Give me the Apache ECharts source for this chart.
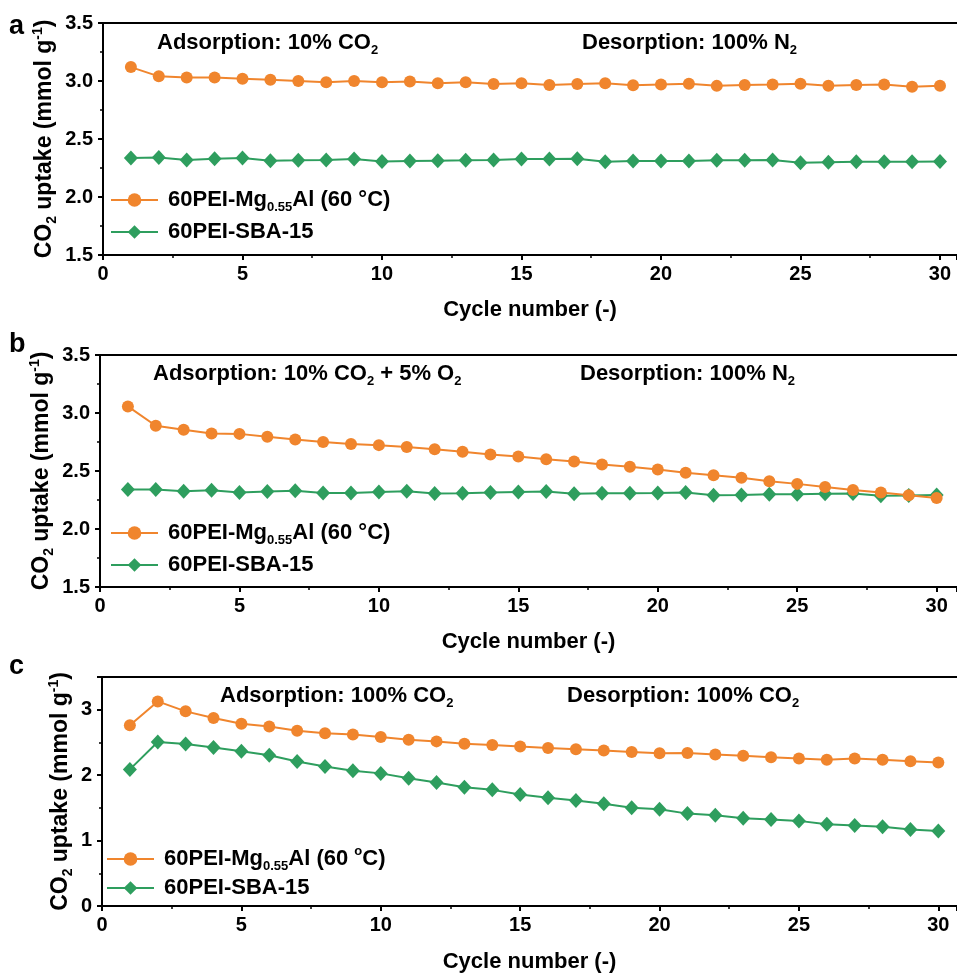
<!DOCTYPE html>
<html>
<head>
<meta charset="utf-8">
<script src="https://cdn.jsdelivr.net/npm/echarts@6/dist/echarts.min.js"></script>
<style>
html,body{margin:0;padding:0;background:#fff;}
#chart{width:957px;height:974px;}
</style>
</head>
<body>
<div id="chart"></div>
<script>
// ---------- data ----------
const cycles = [1,2,3,4,5,6,7,8,9,10,11,12,13,14,15,16,17,18,19,20,21,22,23,24,25,26,27,28,29,30];

// panel a: adsorption 10% CO2, desorption 100% N2
const aMg  = [3.12,3.04,3.03,3.03,3.02,3.01,3.00,2.99,3.00,2.99,2.995,2.98,2.99,2.975,2.98,2.965,2.975,2.98,2.963,2.97,2.976,2.958,2.965,2.97,2.976,2.96,2.965,2.97,2.95,2.96];
const aSBA = [2.336,2.34,2.32,2.33,2.336,2.313,2.316,2.32,2.327,2.305,2.31,2.313,2.316,2.32,2.327,2.327,2.33,2.304,2.31,2.31,2.31,2.316,2.316,2.32,2.296,2.30,2.304,2.304,2.304,2.305];

// panel b: adsorption 10% CO2 + 5% O2, desorption 100% N2
const bMg  = [3.057,2.89,2.855,2.824,2.82,2.795,2.772,2.749,2.732,2.723,2.706,2.688,2.665,2.642,2.625,2.602,2.582,2.556,2.536,2.513,2.484,2.464,2.441,2.412,2.389,2.363,2.337,2.314,2.291,2.268];
const bSBA = [2.34,2.34,2.326,2.334,2.314,2.323,2.329,2.311,2.311,2.32,2.326,2.306,2.309,2.314,2.32,2.323,2.303,2.309,2.309,2.311,2.314,2.291,2.294,2.30,2.30,2.303,2.306,2.286,2.289,2.294];

// panel c: adsorption 100% CO2, desorption 100% CO2
const cMg  = [2.764,3.127,2.975,2.874,2.784,2.743,2.678,2.642,2.622,2.582,2.542,2.516,2.481,2.461,2.436,2.416,2.395,2.375,2.355,2.335,2.34,2.315,2.295,2.274,2.254,2.234,2.254,2.234,2.214,2.194];
const cSBA = [2.088,2.506,2.476,2.421,2.365,2.305,2.209,2.133,2.068,2.027,1.952,1.886,1.815,1.775,1.705,1.654,1.614,1.563,1.503,1.478,1.412,1.387,1.341,1.321,1.301,1.251,1.230,1.210,1.170,1.145];

const nameMgAB = '60PEI-Mg0.55Al (60 °C)';
const nameMgC  = '60PEI-Mg0.55Al (60 oC)';
const nameSBA  = '60PEI-SBA-15';

const panelLetters = ['a','b','c'];
const adsTexts = [
  '{n|Adsorption: 10% CO}{s|2}',
  '{n|Adsorption: 10% CO}{s|2}{n| + 5% O}{s|2}',
  '{n|Adsorption: 100% CO}{s|2}'
];
const desTexts = [
  '{n|Desorption: 100% N}{s|2}',
  '{n|Desorption: 100% N}{s|2}',
  '{n|Desorption: 100% CO}{s|2}'
];
const xName = 'Cycle number (-)';
const yName = '{n|CO}{s|2}{n| uptake (mmol g}{p|-1}{n|)}';

// ---------- style ----------
const F = '"Liberation Sans", Arial, Helvetica, sans-serif';
const ORANGE = '#F0852D';
const GREEN = '#2E9E5E';

function richSet(fs, sub) {
  return {
    n: {fontSize: fs, fontWeight: 'bold', fontFamily: F, color: '#000', lineHeight: 28},
    n0: {fontSize: fs, fontWeight: 'bold', fontFamily: F, color: '#000', lineHeight: 28, padding: [0,0,0,5]},
    s: {fontSize: sub, fontWeight: 'bold', fontFamily: F, color: '#000', lineHeight: 14, verticalAlign: 'bottom'},
    p: {fontSize: sub, fontWeight: 'bold', fontFamily: F, color: '#000', lineHeight: 14, verticalAlign: 'top'}
  };
}

const legendFmt = {};
legendFmt[nameMgAB] = '{n0|60PEI-Mg}{s|0.55}{n|Al (60 °C)}';
legendFmt[nameMgC]  = '{n0|60PEI-Mg}{s|0.55}{n|Al (60 }{p|o}{n|C)}';
legendFmt[nameSBA]  = '{n0|60PEI-SBA-15}';

const grids = [
  {left: 103, top: 23,  width: 854, height: 232},
  {left: 100, top: 355, width: 857, height: 232},
  {left: 102, top: 677, width: 855, height: 231}
];
const xMax = [30.61, 30.73, 30.67];
const yRange = [[1.5, 3.5, 0.5], [1.5, 3.5, 0.5], [0, 3.5, 1]];
const yNameGap = [44, 44, 27];
const xNameGap = [44, 44, 45];
const letterTop = [13, 331, 653];
const annTop = [29, 360, 682];
const adsLeft = [157, 153, 220];
const desLeft = [582, 580, 567];
const legendTops = [[189, 221], [522, 554], [845, 877]];
const legendLeft = [110, 110, 106];

const axisLine = {show: true, lineStyle: {color: '#000', width: 2}};

const option = {
  backgroundColor: '#fff',
  animation: false,
  grid: grids,
  title: [],
  legend: [],
  xAxis: [],
  yAxis: [],
  series: []
};

const seriesData = [[aMg, aSBA], [bMg, bSBA], [cMg, cSBA]];

for (let i = 0; i < 3; i++) {
  const mgName = i === 2 ? nameMgC : nameMgAB;
  option.title.push({
    text: panelLetters[i], left: 9, top: letterTop[i], padding: 0,
    textStyle: {fontSize: 27, fontWeight: 'bold', fontFamily: F, color: '#000'}
  });
  option.title.push({
    text: adsTexts[i], left: adsLeft[i], top: annTop[i], padding: 0,
    textStyle: {rich: richSet(22, 13)}
  });
  option.title.push({
    text: desTexts[i], left: desLeft[i], top: annTop[i], padding: 0,
    textStyle: {rich: richSet(22, 13)}
  });

  option.xAxis.push({
    type: 'value', gridIndex: i, min: 0, max: xMax[i], interval: 5,
    name: xName, nameLocation: 'middle', nameGap: xNameGap[i],
    nameTextStyle: {fontSize: 22, fontWeight: 'bold', fontFamily: F, color: '#000'},
    axisLine: axisLine,
    axisTick: {show: true, length: 5, lineStyle: {color: '#000', width: 2}},
    minorTick: {show: true, splitNumber: 2, length: 3, lineStyle: {color: '#000', width: 1.5}},
    splitLine: {show: false},
    axisLabel: {
      margin: 9, fontSize: 20, fontWeight: 'bold', fontFamily: F, color: '#000',
      showMaxLabel: false,
      formatter: v => (Math.abs(v % 5) < 1e-9 ? String(v) : '')
    }
  });
  option.xAxis.push({
    type: 'value', gridIndex: i, position: 'top', min: 0, max: xMax[i],
    axisLine: axisLine, axisTick: {show: false}, axisLabel: {show: false}, splitLine: {show: false}
  });

  const yr = yRange[i];
  option.yAxis.push({
    type: 'value', gridIndex: i, min: yr[0], max: yr[1], interval: yr[2],
    name: yName, nameLocation: 'middle', nameGap: yNameGap[i], nameRotate: 90,
    nameMoveOverlap: false,
    nameTextStyle: {rich: richSet(23, 14)},
    axisLine: axisLine,
    axisTick: {show: true, length: 5, lineStyle: {color: '#000', width: 2}},
    minorTick: {show: true, splitNumber: 2, length: 3, lineStyle: {color: '#000', width: 1.5}},
    splitLine: {show: false},
    axisLabel: {
      margin: 10, fontSize: 20, fontWeight: 'bold', fontFamily: F, color: '#000',
      formatter: v => (i === 2 ? (Number.isInteger(v) ? String(v) : '') : v.toFixed(1))
    }
  });

  const [mg, sba] = seriesData[i];
  option.series.push({
    name: nameSBA, type: 'line', xAxisIndex: 2 * i, yAxisIndex: i,
    data: cycles.map((c, k) => [c, sba[k]]),
    symbol: 'diamond', symbolSize: [14, 15],
    itemStyle: {color: GREEN}, lineStyle: {color: GREEN, width: 2}, z: 2
  });
  option.series.push({
    name: mgName, type: 'line', xAxisIndex: 2 * i, yAxisIndex: i,
    data: cycles.map((c, k) => [c, mg[k]]),
    symbol: 'circle', symbolSize: 12,
    itemStyle: {color: ORANGE}, lineStyle: {color: ORANGE, width: 2}, z: 3
  });

  [mgName, nameSBA].forEach((nm, j) => {
    option.legend.push({
      data: [nm], left: legendLeft[i], top: legendTops[i][j], padding: 0,
      orient: 'vertical', itemWidth: 47, itemHeight: 17, selectedMode: false,
      formatter: name => legendFmt[name],
      textStyle: {rich: richSet(22, 13)}
    });
  });
}

const chart = echarts.init(document.getElementById('chart'), null, {renderer: 'canvas'});
chart.setOption(option);
</script>
</body>
</html>
